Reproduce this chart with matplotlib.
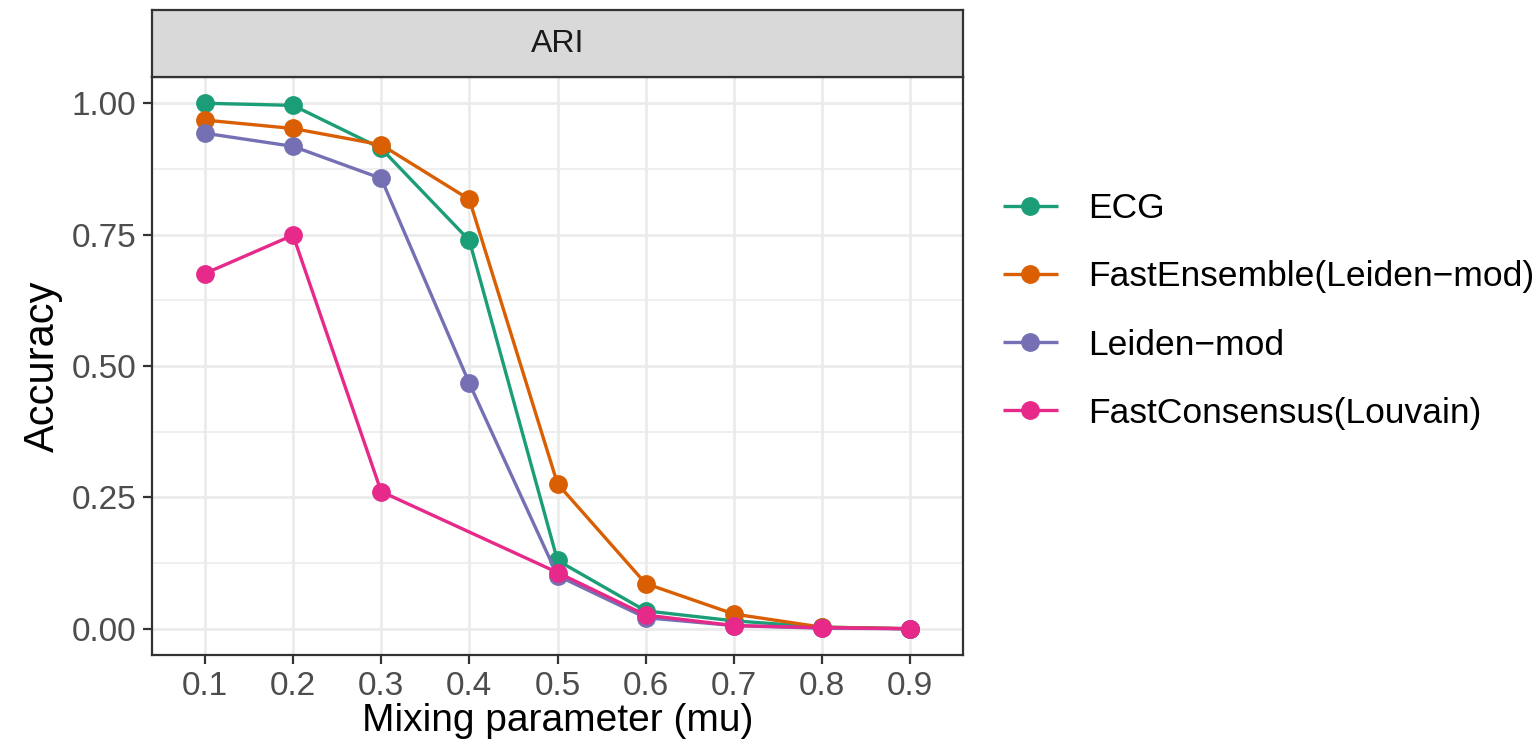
import numpy as np
import matplotlib
matplotlib.use("Agg")
import matplotlib.pyplot as plt
from matplotlib.patches import Rectangle

plt.rcParams['font.family'] = ['Liberation Sans', 'DejaVu Sans']

# data
mu_labels = ["0.1", "0.2", "0.3", "0.4", "0.5", "0.6", "0.7", "0.8", "0.9"]
ecg = [1.000, 0.996, 0.914, 0.739, 0.130, 0.034, 0.015, 0.003, 0.000]
fast_ensemble = [0.968, 0.952, 0.921, 0.817, 0.276, 0.086, 0.028, 0.003, 0.000]
leiden_mod = [0.943, 0.918, 0.857, 0.467, 0.101, 0.021, 0.006, 0.001, 0.000]
# FastConsensus has no value at mu = 0.4
fc_labels = ["0.1", "0.2", "0.3", "0.5", "0.6", "0.7", "0.8", "0.9"]
fast_consensus = [0.676, 0.749, 0.261, 0.107, 0.026, 0.006, 0.002, 0.000]

series = [
    ("ECG", mu_labels, ecg, "#1B9E77"),
    ("FastEnsemble(Leiden\u2212mod)", mu_labels, fast_ensemble, "#D95F02"),
    ("Leiden\u2212mod", mu_labels, leiden_mod, "#7570B3"),
    ("FastConsensus(Louvain)", fc_labels, fast_consensus, "#E7298A"),
]

W, H = 1539, 753
fig = plt.figure(figsize=(W / 100, H / 100), dpi=100)

# panel in pixel coords -> figure fractions
px_l, px_r, px_t, px_b = 152, 963, 77, 655
ax = fig.add_axes([px_l / W, 1 - px_b / H, (px_r - px_l) / W, (px_b - px_t) / H])

pos = {lab: i for i, lab in enumerate(mu_labels)}
for name, xs, ys, col in series:
    xi = [pos[x] for x in xs]
    ax.plot(xi, ys, color=col, lw=2.4, marker="o", ms=12.5, label=name,
            solid_capstyle="butt", zorder=3)

ax.set_xlim(-0.6, len(mu_labels) - 1 + 0.6)
ax.set_ylim(-0.05, 1.05)
ax.set_xticks(range(len(mu_labels)))
ax.set_xticklabels(mu_labels)
ax.set_yticks([0, 0.25, 0.5, 0.75, 1.0])
ax.set_yticklabels(["0.00", "0.25", "0.50", "0.75", "1.00"])
ax.set_yticks([0.125, 0.375, 0.625, 0.875], minor=True)

ax.grid(True, which="major", color="#EBEBEB", lw=2.0, zorder=0)
ax.grid(True, which="minor", axis="y", color="#EBEBEB", lw=1.1, zorder=0)
ax.tick_params(which="minor", length=0)
ax.tick_params(which="major", length=6.5, width=1.6, color="#333333",
               labelsize=24, labelcolor="#4D4D4D")
ax.tick_params(axis="y", pad=5)
ax.tick_params(axis="x", pad=5)
ax.set_axisbelow(True)
for sp in ax.spines.values():
    sp.set_color("#333333")
    sp.set_linewidth(1.6)

ax.set_xlabel("Mixing parameter (mu)", fontsize=28, color="black", labelpad=1)
ax.set_ylabel("Accuracy", fontsize=30, color="black", labelpad=6)

# facet strip
st_t = 10
strip = fig.add_axes([px_l / W, 1 - px_t / H, (px_r - px_l) / W, (px_t - st_t) / H])
strip.add_patch(Rectangle((0, 0), 1, 1, transform=strip.transAxes,
                          facecolor="#D9D9D9", edgecolor="none"))
strip.set_xticks([])
strip.set_yticks([])
for sp in strip.spines.values():
    sp.set_color("#333333")
    sp.set_linewidth(1.6)
strip.text(0.5, 0.5, "ARI", ha="center", va="center", fontsize=23, color="#1A1A1A")

leg = fig.legend(loc="center left", bbox_to_anchor=(1003 / W, 1 - 311 / H),
                 frameon=False, fontsize=25.5, handlelength=1.55,
                 handletextpad=0.85, labelspacing=0.99, borderaxespad=0,
                 borderpad=0)

fig.savefig("out.png", dpi=100)
